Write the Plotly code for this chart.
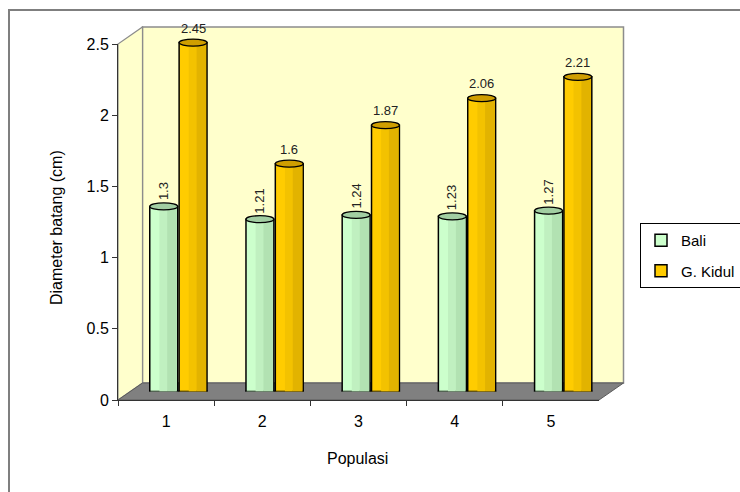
import plotly.graph_objects as go

# ---- data ----
populasi = ["1", "2", "3", "4", "5"]
bali = [1.3, 1.21, 1.24, 1.23, 1.27]
g_kidul = [2.45, 1.6, 1.87, 2.06, 2.21]
y_ticks = [0, 0.5, 1, 1.5, 2, 2.5]

# ---- page geometry (pixels) ----
W, H = 740, 492
FONT = "Liberation Sans, Arial, sans-serif"


def px(x):
    return x / W


def py(y):
    return 1 - y / H


# front frame of the 3-D box
X0, X1 = 118, 599
Y0, Y1 = 400, 44
DX, DY = 24.5, 17          # depth offset of the back wall
# plane where the cylinders stand (half depth)
BX0, BX1 = X0 + DX / 2, X1 + DX / 2
BY0, BY1 = Y0 - DY / 2, Y1 - DY / 2

YMAX = 2.5
unit_px = (BY0 - BY1) / YMAX
ell_h = 7 / unit_px        # height of cylinder end caps in data units

BW = 0.29                  # bar width in category units
OFF_BALI, OFF_GK = -0.297, 0.008

fig = go.Figure()

# empty trace so the front (labelled) axes get drawn
fig.add_trace(go.Scatter(x=populasi, y=[None] * len(populasi), mode="lines",
                         xaxis="x", yaxis="y", showlegend=False, hoverinfo="skip"))


def cylinder(values, name, offset, base, bands, top):
    # body
    fig.add_trace(go.Bar(
        x=populasi, y=values, name=name, width=BW, offset=offset,
        marker=dict(color=base, line=dict(color="black", width=1.5)),
        xaxis="x2", yaxis="y2", legendgroup=name, showlegend=True,
    ))
    # shading bands for the rounded look
    for start, width, col in bands:
        fig.add_trace(go.Bar(
            x=populasi, y=values, width=width, offset=offset + start,
            marker=dict(color=col, line=dict(width=0)),
            xaxis="x2", yaxis="y2", showlegend=False, hoverinfo="skip",
        ))
    for i, v in enumerate(values):
        # bottom cap (only the lower half shows below the body)
        fig.add_shape(type="circle", xref="x2", yref="y2", layer="below",
                      x0=i + offset, x1=i + offset + BW,
                      y0=-ell_h / 2, y1=ell_h / 2,
                      fillcolor=bands[-1][2], line=dict(color="black", width=1.5))
        # top cap
        fig.add_shape(type="circle", xref="x2", yref="y2", layer="above",
                      x0=i + offset, x1=i + offset + BW,
                      y0=v - ell_h / 2, y1=v + ell_h / 2,
                      fillcolor=top, line=dict(color="black", width=1.3))


cylinder(bali, "Bali", OFF_BALI, "#CCFFCC",
         [(0.10, 0.08, "#C0F0C0"), (0.18, 0.10, "#B2E2B2")], "#A2CEA2")
cylinder(g_kidul, "G. Kidul", OFF_GK, "#FFCC00",
         [(0.10, 0.08, "#F3C200"), (0.18, 0.10, "#E2B300")], "#CF9E00")

# value labels
for i, v in enumerate(bali):
    fig.add_annotation(x=i + OFF_BALI + BW / 2, y=v, xref="x2", yref="y2",
                       text=f"{v:g}", textangle=-90, showarrow=False,
                       yanchor="bottom", yshift=4,
                       font=dict(family=FONT, size=13, color="#222222"))
for i, v in enumerate(g_kidul):
    fig.add_annotation(x=i + OFF_GK + BW / 2, y=v, xref="x2", yref="y2",
                       text=f"{v:g}", showarrow=False,
                       yanchor="bottom", yshift=5,
                       font=dict(family=FONT, size=13, color="#222222"))

# axis titles
fig.add_annotation(x=px(57), y=py(228), xref="paper", yref="paper",
                   xanchor="center", yanchor="middle",
                   text="Diameter batang (cm)", textangle=-90, showarrow=False,
                   font=dict(family=FONT, size=16, color="black"))
fig.add_annotation(x=px(357), y=py(458), xref="paper", yref="paper",
                   xanchor="center", yanchor="middle",
                   text="Populasi", showarrow=False,
                   font=dict(family=FONT, size=16, color="black"))

# ---- walls and floor of the 3-D box ----
wall = "#FFFFCC"
edge = "#8C8C8C"


def path(points):
    return "M " + " L ".join(f"{px(x):.5f},{py(y):.5f}" for x, y in points) + " Z"


fig.add_shape(type="rect", xref="paper", yref="paper", layer="below",
              x0=px(9), x1=px(900), y0=py(10), y1=py(700),
              fillcolor="white", line=dict(color="#7F7F7F", width=2))
fig.add_shape(type="rect", xref="paper", yref="paper", layer="below",
              x0=px(X0 + DX), x1=px(X1 + DX), y0=py(Y0 - DY), y1=py(Y1 - DY),
              fillcolor=wall, line=dict(color=edge, width=1.5))
fig.add_shape(type="path", xref="paper", yref="paper", layer="below",
              path=path([(X0, Y0), (X0, Y1), (X0 + DX, Y1 - DY), (X0 + DX, Y0 - DY)]),
              fillcolor=wall, line=dict(color=edge, width=1.2))
fig.add_shape(type="path", xref="paper", yref="paper", layer="below",
              path=path([(X0, Y0), (X0 + DX, Y0 - DY), (X1 + DX, Y0 - DY), (X1, Y0)]),
              fillcolor="#808080", line=dict(color="#5A5A5A", width=1))

fig.update_layout(
    width=W, height=H,
    margin=dict(l=0, r=0, t=0, b=0, autoexpand=False),
    paper_bgcolor="white",
    plot_bgcolor="rgba(0,0,0,0)",
    barmode="overlay",
    font=dict(family=FONT, size=16, color="black"),
    showlegend=True,
    legend=dict(
        x=px(640), y=py(223), xanchor="left", yanchor="top",
        bgcolor="white", bordercolor="black", borderwidth=1,
        font=dict(family=FONT, size=15, color="black"),
        tracegroupgap=8,
    ),
    xaxis=dict(
        domain=[px(X0), px(X1)], anchor="y", type="category",
        categoryorder="array", categoryarray=populasi,
        range=[-0.5, 4.5], tickson="boundaries", ticks="outside", ticklen=5,
        tickcolor="#333333", showline=True, linecolor="#333333", linewidth=1,
        showgrid=False, zeroline=False, fixedrange=True,
        tickfont=dict(size=16), ticklabelstandoff=7,
    ),
    yaxis=dict(
        domain=[py(Y0), py(Y1)], anchor="x", range=[0, YMAX],
        tickvals=y_ticks, ticks="outside", ticklen=5, tickcolor="#333333",
        showline=True, linecolor="#333333", linewidth=1,
        showgrid=False, zeroline=False, fixedrange=True,
        tickfont=dict(size=16),
    ),
    xaxis2=dict(
        domain=[px(BX0), px(BX1)], anchor="y2", type="category",
        categoryorder="array", categoryarray=populasi, range=[-0.5, 4.5],
        visible=False, fixedrange=True,
    ),
    yaxis2=dict(
        domain=[py(BY0), py(BY1)], anchor="x2", range=[0, YMAX],
        visible=False, fixedrange=True,
    ),
)

fig.write_html("out.html")
